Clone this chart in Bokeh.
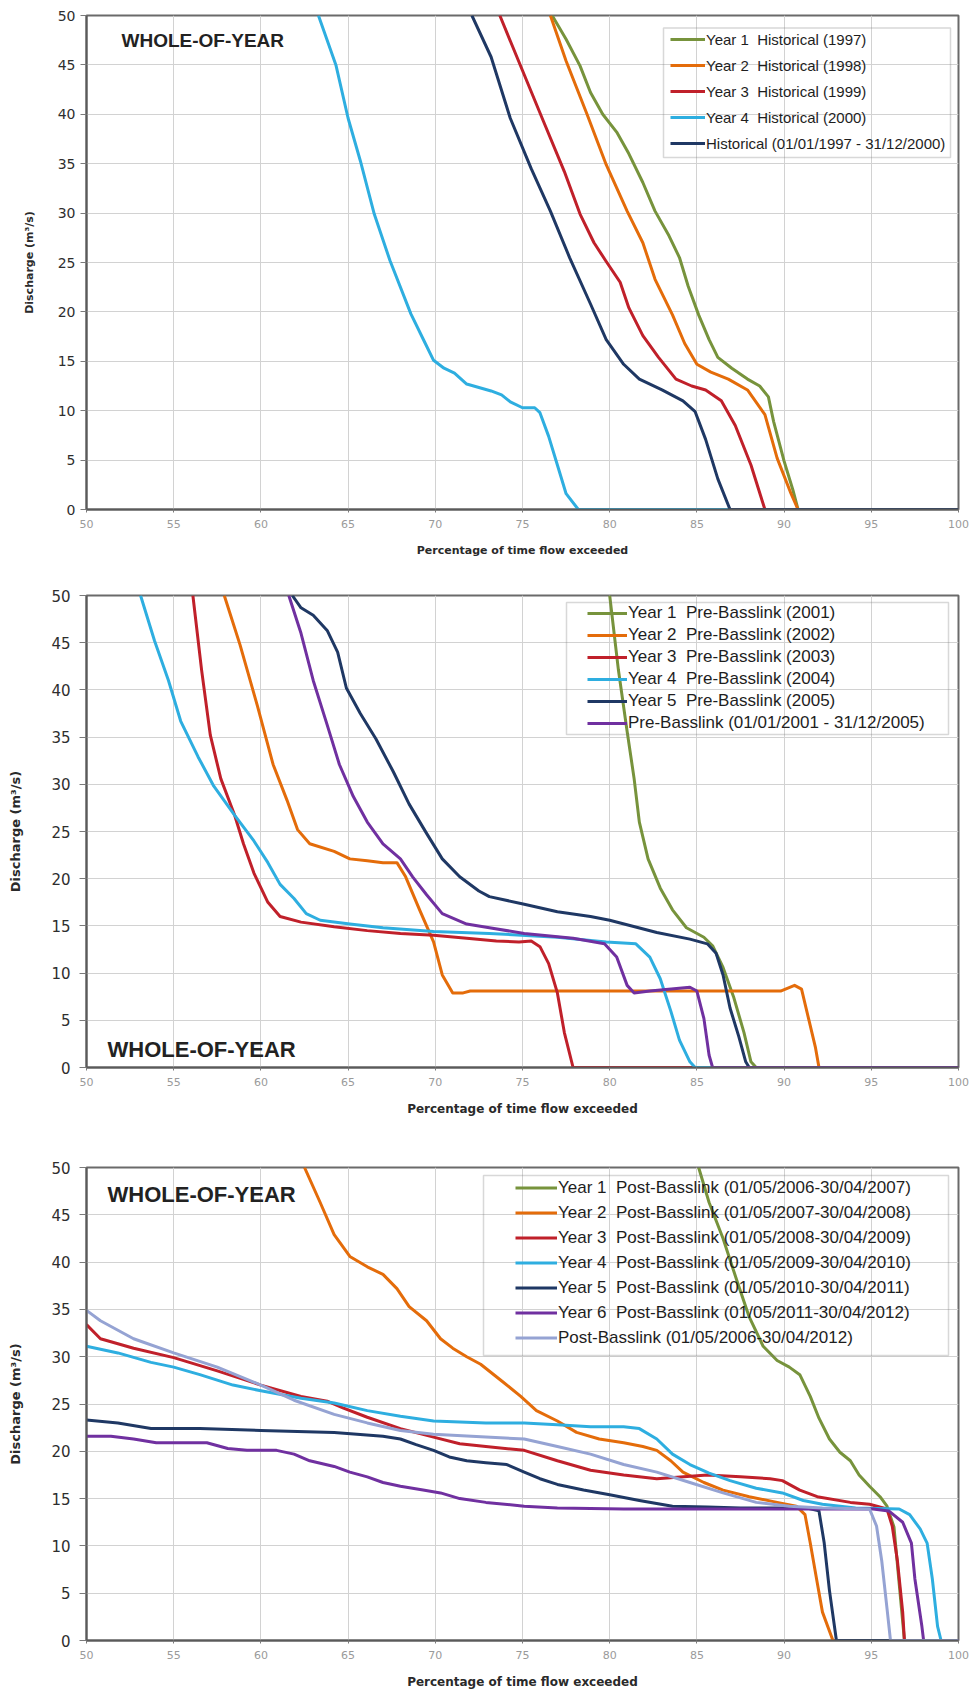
from bokeh.plotting import figure
from bokeh.models import Range1d, Legend, LegendItem, Label, BoxAnnotation, FixedTicker
from bokeh.layouts import column
from bokeh.embed import file_html
from bokeh.resources import INLINE

# ---------------------------------------------------------------- colours
GREEN = "#77933C"
ORANGE = "#E46C0A"
RED = "#C0202A"
SKY = "#2EAEE0"
NAVY = "#1F3864"
PURPLE = "#7030A0"
LAVENDER = "#95A3D3"

X_TICKS = list(range(50, 101, 5))
Y_TICKS = list(range(0, 51, 5))

# ---------------------------------------------------------------- historical (1997-2000)
hist_labels = [
    "Year 1  Historical (1997)",
    "Year 2  Historical (1998)",
    "Year 3  Historical (1999)",
    "Year 4  Historical (2000)",
    "Historical (01/01/1997 - 31/12/2000)",
]
hist_1997_x = [76.7, 77.5, 78.3, 78.9, 79.6, 80.4, 81.1, 81.9, 82.6, 83.4, 84.0, 84.5, 85.1, 85.7, 86.2, 87.0, 87.9, 88.6, 89.1, 89.4, 90.0, 90.5, 90.8, 100]
hist_1997_y = [50, 47.6, 44.9, 42.2, 40.0, 38.2, 36.0, 33.1, 30.2, 27.7, 25.5, 22.6, 19.7, 17.2, 15.4, 14.3, 13.2, 12.5, 11.4, 8.9, 4.9, 2.0, 0, 0]
hist_1998_x = [76.6, 77.5, 78.7, 79.8, 81.0, 81.9, 82.6, 83.6, 84.3, 85.0, 85.8, 86.8, 87.9, 88.9, 89.6, 90.4, 90.8, 100]
hist_1998_y = [50, 45.4, 40.0, 34.9, 30.2, 27.0, 23.3, 19.7, 16.8, 14.7, 13.9, 13.2, 12.1, 9.6, 5.2, 1.6, 0, 0]
hist_1999_x = [73.7, 75.1, 76.2, 77.4, 78.3, 79.1, 79.8, 80.6, 81.1, 81.9, 82.8, 83.8, 84.7, 85.5, 86.4, 87.2, 88.1, 88.9, 100]
hist_1999_y = [50, 44.0, 39.3, 34.2, 29.9, 27.0, 25.1, 23.0, 20.4, 17.6, 15.4, 13.2, 12.5, 12.1, 11.0, 8.5, 4.5, 0, 0]
hist_2000_x = [63.3, 64.3, 65.0, 65.7, 66.5, 67.4, 68.6, 69.4, 69.9, 70.5, 71.1, 71.8, 73.2, 73.8, 74.3, 75.0, 75.7, 76.0, 76.5, 77.0, 77.5, 78.2, 100]
hist_2000_y = [50, 45.0, 39.6, 35.3, 29.9, 25.2, 19.8, 16.9, 15.1, 14.3, 13.8, 12.7, 12.0, 11.6, 10.9, 10.3, 10.3, 9.8, 7.4, 4.5, 1.6, 0, 0]
hist_all_x = [72.1, 73.2, 74.3, 75.5, 76.6, 77.7, 78.9, 79.8, 80.8, 81.7, 83.0, 84.2, 84.9, 85.5, 86.2, 86.9, 100]
hist_all_y = [50, 45.8, 39.6, 34.5, 30.2, 25.5, 20.8, 17.2, 14.7, 13.2, 12.1, 11.0, 9.9, 7.1, 3.1, 0, 0]

# ---------------------------------------------------------------- pre-Basslink (2001-2005)
pre_labels = [
    "Year 1  Pre-Basslink (2001)",
    "Year 2  Pre-Basslink (2002)",
    "Year 3  Pre-Basslink (2003)",
    "Year 4  Pre-Basslink (2004)",
    "Year 5  Pre-Basslink (2005)",
    "Pre-Basslink (01/01/2001 - 31/12/2005)",
]
pre_2001_x = [80.0, 80.5, 81.0, 81.4, 81.7, 82.2, 82.9, 83.6, 84.4, 85.4, 85.9, 86.5, 87.1, 87.7, 88.1, 88.4, 100]
pre_2001_y = [50, 42.1, 35.6, 30.6, 26.0, 22.1, 19.0, 16.7, 14.8, 13.8, 12.9, 10.6, 7.5, 3.7, 0.6, 0, 0]
pre_2002_x = [57.9, 58.8, 59.8, 60.7, 61.5, 62.1, 62.8, 64.2, 65.1, 66.1, 67.0, 67.8, 68.3, 69.1, 69.9, 70.4, 71.0, 71.6, 72.0, 80.0, 89.8, 90.6, 91.0, 91.4, 91.8, 92.0, 100]
pre_2002_y = [50, 44.8, 38.3, 32.1, 28.3, 25.2, 23.7, 22.9, 22.1, 21.9, 21.7, 21.7, 20.2, 16.7, 13.3, 9.8, 7.9, 7.9, 8.1, 8.1, 8.1, 8.7, 8.3, 5.2, 2.1, 0, 0]
pre_2003_x = [56.1, 56.6, 57.1, 57.7, 58.5, 59.0, 59.6, 60.4, 61.1, 62.3, 64.2, 66.1, 68.0, 69.9, 71.8, 73.5, 74.8, 75.5, 76.0, 76.5, 77.0, 77.4, 77.9, 100]
pre_2003_y = [50, 42.1, 35.2, 30.6, 26.7, 23.7, 20.6, 17.5, 16.0, 15.4, 14.9, 14.5, 14.2, 14.0, 13.7, 13.4, 13.3, 13.4, 12.8, 11.0, 7.9, 3.7, 0, 0]
pre_2004_x = [53.1, 53.9, 54.7, 55.4, 56.4, 57.3, 58.5, 59.6, 60.4, 61.1, 61.9, 62.6, 63.4, 65.1, 67.0, 69.9, 73.1, 77.0, 79.8, 81.5, 82.3, 82.9, 83.5, 84.0, 84.6, 84.9, 100]
pre_2004_y = [50, 45.2, 41.0, 36.7, 32.9, 29.8, 26.7, 24.0, 21.7, 19.4, 17.9, 16.3, 15.6, 15.2, 14.8, 14.4, 14.2, 13.8, 13.3, 13.1, 11.7, 9.4, 6.0, 2.9, 0.6, 0, 0]
pre_2005_x = [61.8, 62.3, 63.0, 63.8, 64.4, 64.9, 65.7, 66.6, 67.6, 68.5, 69.5, 70.4, 71.4, 72.5, 73.1, 75.1, 77.0, 78.9, 80.0, 82.7, 84.6, 85.6, 86.1, 86.5, 86.9, 87.4, 87.8, 88.0, 100]
pre_2005_y = [50, 48.7, 47.9, 46.3, 44.0, 40.2, 37.5, 34.8, 31.3, 27.9, 24.8, 22.1, 20.2, 18.7, 18.1, 17.3, 16.5, 16.0, 15.6, 14.3, 13.6, 13.1, 12.1, 9.8, 6.3, 3.3, 0.6, 0, 0]
pre_all_x = [61.6, 62.3, 63.0, 63.8, 64.5, 65.3, 66.1, 67.0, 68.0, 68.7, 69.5, 70.4, 71.8, 73.1, 75.1, 77.9, 79.7, 80.4, 81.0, 81.4, 82.3, 84.6, 85.0, 85.4, 85.7, 85.9, 100]
pre_all_y = [50, 46.0, 41.0, 36.3, 32.1, 28.7, 26.0, 23.7, 22.1, 20.2, 18.3, 16.3, 15.2, 14.8, 14.2, 13.7, 13.1, 11.7, 8.7, 7.9, 8.1, 8.5, 8.1, 5.2, 1.3, 0, 0]

# ---------------------------------------------------------------- post-Basslink (2006-2012)
post_labels = [
    "Year 1  Post-Basslink (01/05/2006-30/04/2007)",
    "Year 2  Post-Basslink (01/05/2007-30/04/2008)",
    "Year 3  Post-Basslink (01/05/2008-30/04/2009)",
    "Year 4  Post-Basslink (01/05/2009-30/04/2010)",
    "Year 5  Post-Basslink (01/05/2010-30/04/2011)",
    "Year 6  Post-Basslink (01/05/2011-30/04/2012)",
    "Post-Basslink (01/05/2006-30/04/2012)",
]
post_y1_x = [85.1, 85.7, 86.5, 87.3, 88.0, 88.8, 89.6, 90.3, 90.9, 91.5, 92.0, 92.6, 93.2, 93.8, 94.3, 94.9, 95.5, 95.9, 96.3, 96.6, 96.9, 100]
post_y1_y = [50, 46.3, 42.5, 38.0, 34.2, 31.1, 29.6, 28.9, 28.1, 25.8, 23.5, 21.3, 19.9, 19.0, 17.5, 16.3, 15.2, 14.2, 12.0, 6.0, 0, 0]
post_y2_x = [62.5, 63.4, 64.2, 65.1, 66.1, 67.0, 67.8, 68.5, 69.5, 70.3, 71.0, 71.8, 72.6, 73.9, 74.9, 75.8, 77.0, 78.1, 79.4, 80.8, 81.9, 82.7, 83.5, 84.2, 85.4, 86.5, 88.0, 89.6, 90.7, 91.2, 91.5, 91.9, 92.2, 92.8, 100]
post_y2_y = [50, 46.3, 42.9, 40.6, 39.5, 38.7, 37.2, 35.3, 33.8, 31.9, 30.9, 30.0, 29.2, 27.3, 25.8, 24.3, 23.2, 22.0, 21.3, 20.9, 20.5, 20.1, 19.0, 17.8, 16.7, 15.9, 15.2, 14.6, 14.2, 13.3, 10.3, 6.1, 3.0, 0, 0]
post_y3_x = [50, 50.8, 52.7, 55.0, 57.5, 60.0, 62.3, 63.8, 64.7, 66.1, 68.0, 69.9, 71.4, 72.9, 75.1, 77.0, 78.9, 80.8, 82.7, 85.6, 87.5, 89.2, 89.9, 90.9, 91.9, 93.8, 94.9, 95.9, 96.2, 96.5, 96.8, 96.9, 100]
post_y3_y = [33.4, 31.9, 30.9, 29.9, 28.5, 27.0, 25.8, 25.3, 24.6, 23.6, 22.4, 21.5, 20.8, 20.5, 20.1, 19.0, 18.0, 17.5, 17.1, 17.5, 17.3, 17.1, 16.9, 15.9, 15.2, 14.6, 14.4, 13.9, 12.1, 8.4, 3.0, 0, 0]
post_y4_x = [50, 51.8, 53.7, 55.0, 56.5, 58.4, 60.0, 62.3, 64.2, 66.1, 68.0, 69.9, 72.9, 75.1, 77.0, 78.9, 80.8, 81.7, 82.7, 83.6, 84.6, 85.7, 86.9, 88.4, 89.9, 91.1, 92.2, 94.1, 96.6, 97.2, 97.8, 98.2, 98.5, 98.8, 99.0, 100]
post_y4_y = [31.1, 30.4, 29.4, 28.9, 28.1, 27.0, 26.4, 25.6, 25.1, 24.3, 23.7, 23.2, 23.0, 23.0, 22.8, 22.6, 22.6, 22.4, 21.3, 19.7, 18.6, 17.7, 16.9, 16.1, 15.6, 14.8, 14.4, 14.0, 13.9, 13.3, 11.8, 10.3, 6.5, 1.5, 0, 0]
post_y5_x = [50, 51.8, 53.7, 56.5, 60.0, 64.2, 67.0, 68.0, 68.9, 69.9, 70.8, 71.8, 72.9, 74.1, 75.1, 76.0, 77.0, 78.5, 80.0, 81.7, 83.6, 85.6, 87.5, 89.4, 91.3, 92.0, 92.3, 92.6, 93.0, 100]
post_y5_y = [23.3, 23.0, 22.4, 22.4, 22.2, 22.0, 21.6, 21.3, 20.7, 20.1, 19.4, 19.0, 18.8, 18.6, 17.8, 17.1, 16.5, 15.9, 15.4, 14.8, 14.2, 14.1, 14.0, 14.0, 14.0, 13.7, 10.3, 5.3, 0, 0]
post_y6_x = [50, 51.4, 52.7, 54.0, 55.6, 56.9, 58.1, 59.2, 60.9, 61.9, 62.8, 64.2, 65.1, 66.1, 67.0, 68.0, 69.3, 70.3, 71.4, 72.9, 75.1, 77.0, 80.8, 85.0, 90.0, 95.1, 96.0, 96.8, 97.3, 97.5, 97.9, 98.0, 100]
post_y6_y = [21.6, 21.6, 21.3, 20.9, 20.9, 20.9, 20.3, 20.1, 20.1, 19.7, 19.0, 18.4, 17.8, 17.3, 16.7, 16.3, 15.9, 15.6, 15.0, 14.6, 14.2, 14.0, 13.9, 13.9, 13.9, 13.9, 13.7, 12.5, 10.3, 6.5, 1.5, 0, 0]
post_all_x = [50, 50.8, 52.7, 55.0, 57.5, 60.0, 61.9, 64.2, 66.1, 68.0, 69.9, 72.9, 75.1, 77.0, 78.9, 80.8, 82.7, 84.6, 86.5, 88.4, 90.3, 92.2, 94.9, 95.3, 95.6, 95.9, 96.1, 100]
post_all_y = [34.9, 33.8, 31.9, 30.4, 28.9, 27.0, 25.4, 23.9, 23.0, 22.2, 21.8, 21.5, 21.3, 20.5, 19.7, 18.6, 17.8, 16.7, 15.6, 14.6, 14.2, 14.0, 13.9, 12.1, 8.4, 3.4, 0, 0]


def duration_panel(series, labels, colors, height, borders, tick_sizes, title_sizes,
                   yl_standoff, ytick_out, ytick_standoff, tag_font, tag_pos,
                   legend_cfg, box_cfg):
    left, right, top, bottom = borders
    p = figure(width=977, height=height, output_backend="svg", toolbar_location=None,
               x_range=Range1d(50, 100), y_range=Range1d(0, 50),
               min_border_left=left, min_border_right=right,
               min_border_top=top, min_border_bottom=bottom,
               background_fill_color="white", border_fill_color="white")
    p.outline_line_color = "#6a6a6a"
    p.outline_line_width = 2

    p.xaxis.ticker = FixedTicker(ticks=X_TICKS)
    p.yaxis.ticker = FixedTicker(ticks=Y_TICKS)
    p.xgrid.ticker = FixedTicker(ticks=X_TICKS)
    p.ygrid.ticker = FixedTicker(ticks=Y_TICKS)
    p.xgrid.grid_line_color = "#d2d2d2"
    p.ygrid.grid_line_color = "#d2d2d2"

    for ax in (p.xaxis[0], p.yaxis[0]):
        ax.axis_line_color = "#5a5a5a"
        ax.axis_line_width = 2
        ax.major_tick_line_color = "#7a7a7a"
        ax.minor_tick_line_color = None
        ax.major_tick_in = 0
        ax.axis_label_text_font = "DejaVu Sans"
        ax.axis_label_text_font_style = "bold"
        ax.axis_label_text_color = "#2a2a2a"

    p.xaxis.major_tick_out = 3
    p.xaxis.major_label_standoff = 7
    p.xaxis.major_label_text_font = "DejaVu Sans"
    p.xaxis.major_label_text_font_size = "11px"
    p.xaxis.major_label_text_color = "#9a9a9a"
    p.xaxis.axis_label = "Percentage of time flow exceeded"
    p.xaxis.axis_label_text_font_size = title_sizes[0]
    p.xaxis.axis_label_standoff = 13

    p.yaxis.major_tick_out = ytick_out
    p.yaxis.major_label_standoff = ytick_standoff
    p.yaxis.major_label_text_font = "DejaVu Sans"
    p.yaxis.major_label_text_font_size = tick_sizes
    p.yaxis.major_label_text_color = "#2e2e2e"
    p.yaxis.axis_label = "Discharge (m³/s)"
    p.yaxis.axis_label_text_font_size = title_sizes[1]
    p.yaxis.axis_label_standoff = yl_standoff

    items = []
    for (xs, ys), lab, col in zip(series, labels, colors):
        r = p.line(xs, ys, line_color=col, line_width=3, line_join="round")
        items.append(LegendItem(label=lab, renderers=[r]))

    font_px, glyph_w, item_h, spacing, loc = legend_cfg
    leg = Legend(items=items, location=loc, orientation="vertical",
                 label_text_font="Liberation Sans", label_text_font_size=font_px,
                 label_text_color="#1e1e1e", glyph_width=glyph_w, glyph_height=item_h,
                 label_height=item_h, label_standoff=1, spacing=spacing, padding=2,
                 margin=0, border_line_alpha=0, background_fill_alpha=0)
    p.add_layout(leg)

    bl, br, bt, bb = box_cfg
    p.add_layout(BoxAnnotation(left=bl, right=br, top=bt, bottom=bb,
                               left_units="screen", right_units="screen",
                               top_units="screen", bottom_units="screen",
                               fill_alpha=0, line_color="#7d7d7d", line_width=1.5))

    p.add_layout(Label(x=tag_pos[0], y=tag_pos[1], x_units="screen", y_units="screen",
                       text="WHOLE-OF-YEAR", text_font="Liberation Sans",
                       text_font_style="bold", text_font_size=tag_font,
                       text_color="#222222", text_baseline="alphabetic"))
    return p


p1 = duration_panel(
    [(hist_1997_x, hist_1997_y), (hist_1998_x, hist_1998_y), (hist_1999_x, hist_1999_y),
     (hist_2000_x, hist_2000_y), (hist_all_x, hist_all_y)],
    hist_labels, [GREEN, ORANGE, RED, SKY, NAVY],
    height=570, borders=(81, 16, 15, 61), tick_sizes="14px", title_sizes=("11px", "11px"),
    yl_standoff=19, ytick_out=6, ytick_standoff=5, tag_font="19px", tag_pos=(35, 469),
    legend_cfg=("15px", 35, 20, 6, (582, 354)), box_cfg=(577, 864, 481.5, 352))

p2 = duration_panel(
    [(pre_2001_x, pre_2001_y), (pre_2002_x, pre_2002_y), (pre_2003_x, pre_2003_y),
     (pre_2004_x, pre_2004_y), (pre_2005_x, pre_2005_y), (pre_all_x, pre_all_y)],
    pre_labels, [GREEN, ORANGE, RED, SKY, NAVY, PURPLE],
    height=555, borders=(86, 19, 25, 58), tick_sizes="15px", title_sizes=("12px", "13px"),
    yl_standoff=25, ytick_out=7, ytick_standoff=9, tag_font="22px", tag_pos=(21, 18),
    legend_cfg=("17px", 40, 20, 2, (499, 332)), box_cfg=(480, 862, 465, 333))

p3 = duration_panel(
    [(post_y1_x, post_y1_y), (post_y2_x, post_y2_y), (post_y3_x, post_y3_y),
     (post_y4_x, post_y4_y), (post_y5_x, post_y5_y), (post_y6_x, post_y6_y),
     (post_all_x, post_all_y)],
    post_labels, [GREEN, ORANGE, RED, SKY, NAVY, PURPLE, LAVENDER],
    height=569, borders=(86, 19, 42, 54), tick_sizes="15px", title_sizes=("12px", "13px"),
    yl_standoff=25, ytick_out=7, ytick_standoff=9, tag_font="22px", tag_pos=(21, 446),
    legend_cfg=("17px", 42, 21, 4, (427, 290)), box_cfg=(397, 862, 465, 285))

layout = column(p1, p2, p3, spacing=0)
open("out.html", "w").write(file_html(layout, INLINE))
